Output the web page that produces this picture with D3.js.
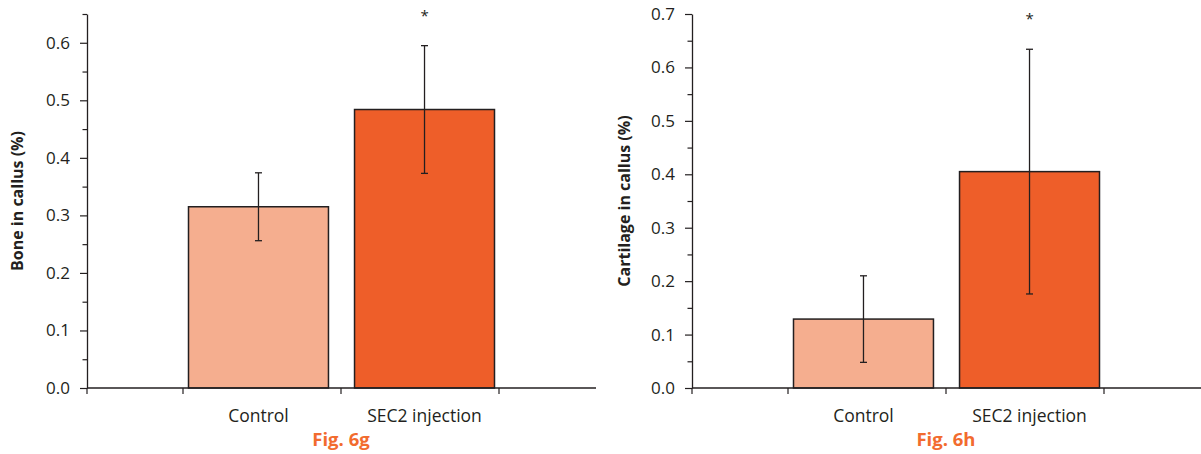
<!DOCTYPE html>
<html>
<head>
<meta charset="utf-8">
<script src="https://cdn.jsdelivr.net/npm/d3@7"></script>
<style>
  body { margin: 0; background: #fff; }
  text { font-family: "Open Sans", "Noto Sans", sans-serif; fill: #231f20; }
</style>
</head>
<body>
<script>
// data
var categories = ["Control", "SEC2 injection"];
var barColors = ["#f5ae8f", "#ee5e29"];

var boneMeans = [0.315, 0.484];
var boneErrors = [0.059, 0.111];
var boneTicks = [0, 0.1, 0.2, 0.3, 0.4, 0.5, 0.6];

var cartMeans = [0.129, 0.405];
var cartErrors = [0.081, 0.229];
var cartTicks = [0, 0.1, 0.2, 0.3, 0.4, 0.5, 0.6, 0.7];

var svg = d3.select("body").append("svg")
    .attr("width", 1201)
    .attr("height", 454);

function drawChart(opt) {
  var g = svg.append("g")
      .attr("transform", "translate(" + opt.left + ",0)");

  var y = d3.scaleLinear()
      .domain([0, opt.yMax])
      .range([388, 14]);

  // band scale for the tick slots, another for the bars (bars sit a bit wider apart)
  var xSlot = d3.scaleBand().domain(categories).range([96, 412]);
  var xBar = d3.scaleBand().domain(categories).range([101.5, 407.5])
      .paddingInner(0.157).paddingOuter(0);

  // minor ticks every 0.05
  var minor = d3.range(0.05, opt.yMax + 0.001, 0.1);
  g.append("g")
      .call(d3.axisLeft(y).tickValues(minor).tickSize(4.5).tickFormat(""))
      .call(function(s) { s.select(".domain").remove(); })
      .selectAll("line").attr("stroke", "#231f20").attr("stroke-width", 1.2);

  // y axis
  var yAxis = g.append("g")
      .call(d3.axisLeft(y).tickValues(opt.ticks).tickSize(7).tickPadding(10)
        .tickFormat(d3.format(".1f")).tickSizeOuter(0));
  yAxis.select(".domain").attr("stroke", "#231f20").attr("stroke-width", 1.3);
  yAxis.selectAll(".tick line").attr("stroke", "#231f20").attr("stroke-width", 1.2);
  yAxis.selectAll("text").style("font-size", "17px").attr("fill", "#231f20");

  // y title
  g.append("text")
      .attr("transform", "translate(" + opt.titleX + ",201) rotate(-90)")
      .attr("text-anchor", "middle")
      .style("font-size", "16px")
      .style("font-weight", "bold")
      .text(opt.title);

  // bars
  g.selectAll(".bar")
      .data(opt.means)
      .enter().append("rect")
      .attr("class", "bar")
      .attr("x", function(d, i) { return xBar(categories[i]); })
      .attr("width", xBar.bandwidth())
      .attr("y", function(d) { return y(d); })
      .attr("height", function(d) { return y(0) - y(d); })
      .attr("fill", function(d, i) { return barColors[i]; })
      .attr("stroke", "#231f20")
      .attr("stroke-width", 1.5);

  // error bars
  var eb = g.selectAll(".err")
      .data(opt.means)
      .enter().append("g")
      .attr("class", "err")
      .attr("stroke", "#231f20")
      .attr("stroke-width", 1.3);
  var cx = function(i) { return xBar(categories[i]) + xBar.bandwidth() / 2; };
  eb.append("line")
      .attr("x1", function(d, i) { return cx(i); })
      .attr("x2", function(d, i) { return cx(i); })
      .attr("y1", function(d, i) { return y(d + opt.errors[i]); })
      .attr("y2", function(d, i) { return y(d - opt.errors[i]); });
  [1, -1].forEach(function(sgn) {
    eb.append("line")
        .attr("x1", function(d, i) { return cx(i) - 3.5; })
        .attr("x2", function(d, i) { return cx(i) + 3.5; })
        .attr("y1", function(d, i) { return y(d + sgn * opt.errors[i]); })
        .attr("y2", function(d, i) { return y(d + sgn * opt.errors[i]); });
  });

  // significance star
  g.append("text")
      .attr("x", cx(1))
      .attr("y", y(opt.means[1] + opt.errors[1]) - 25)
      .attr("text-anchor", "middle")
      .style("font-size", "15px")
      .text("*");

  // x axis: baseline plus ticks at slot edges
  g.append("line")
      .attr("x1", 0).attr("x2", 509)
      .attr("y1", y(0)).attr("y2", y(0))
      .attr("stroke", "#231f20").attr("stroke-width", 1.5);
  var edges = [0, 96].concat(categories.map(function(c) { return xSlot(c) + xSlot.bandwidth(); }));
  g.selectAll(".xtick")
      .data(edges)
      .enter().append("line")
      .attr("x1", function(d) { return d; })
      .attr("x2", function(d) { return d; })
      .attr("y1", y(0)).attr("y2", y(0) + 6)
      .attr("stroke", "#231f20").attr("stroke-width", 1.2);

  g.selectAll(".xlabel")
      .data(categories)
      .enter().append("text")
      .attr("x", function(d, i) { return cx(i); })
      .attr("y", 422)
      .attr("text-anchor", "middle")
      .style("font-size", "17.5px")
      .text(function(d) { return d; });

  // figure label
  g.append("text")
      .attr("x", xSlot(categories[1]))
      .attr("y", 446)
      .attr("text-anchor", "middle")
      .style("font-size", "18.5px")
      .style("font-weight", "bold")
      .style("fill", "#f26b2e")
      .text(opt.fig);
}

drawChart({
  left: 87, yMax: 0.65, ticks: boneTicks,
  means: boneMeans, errors: boneErrors,
  title: "Bone in callus (%)", titleX: -64, fig: "Fig. 6g"
});

drawChart({
  left: 692, yMax: 0.7, ticks: cartTicks,
  means: cartMeans, errors: cartErrors,
  title: "Cartilage in callus (%)", titleX: -62, fig: "Fig. 6h"
});
</script>
</body>
</html>
